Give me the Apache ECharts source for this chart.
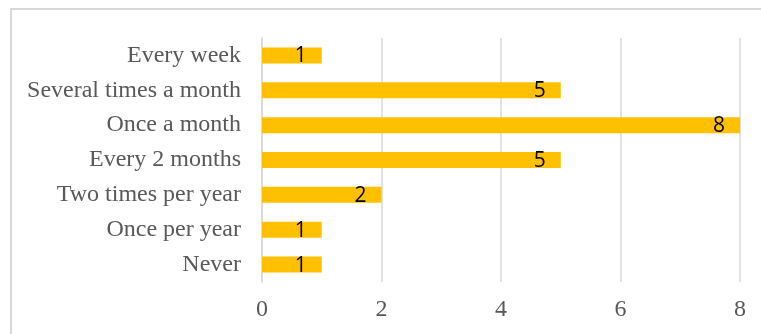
<!DOCTYPE html>
<html>
<head>
<meta charset="utf-8">
<script src="https://cdn.jsdelivr.net/npm/echarts@6/dist/echarts.min.js"></script>
<style>html,body{margin:0;padding:0;background:#fff;}#c{width:761px;height:334px;}</style>
</head>
<body>
<div id="c"></div>
<script>
var categories = ["Every week", "Several times a month", "Once a month", "Every 2 months", "Two times per year", "Once per year", "Never"];
var values = [1, 5, 8, 5, 2, 1, 1];
var xTicks = [0, 2, 4, 6, 8];

var chart = echarts.init(document.getElementById('c'), null, {renderer: 'canvas'});
chart.setOption({
  animation: false,
  backgroundColor: '#fff',
  graphic: [{
    type: 'rect', silent: true,
    shape: {x: 11, y: 9, width: 800, height: 400},
    style: {fill: 'none', stroke: '#d9d9d9', lineWidth: 2}
  }],
  grid: {left: 262, right: 21, top: 38, bottom: 52, containLabel: false},
  xAxis: {
    type: 'value', min: xTicks[0], max: xTicks[xTicks.length - 1], interval: 2,
    axisLine: {show: false}, axisTick: {show: false},
    splitLine: {show: true, lineStyle: {color: '#d9d9d9', width: 1.5}},
    axisLabel: {color: '#595959', fontFamily: 'Liberation Serif', fontSize: 24, margin: 16}
  },
  yAxis: {
    type: 'category', data: categories, inverse: true,
    axisLine: {show: true, lineStyle: {color: '#d9d9d9', width: 1.5}},
    axisTick: {show: false},
    axisLabel: {color: '#595959', fontFamily: 'Liberation Serif', fontSize: 24, margin: 21}
  },
  series: [{
    type: 'bar', data: values, barWidth: 16,
    itemStyle: {color: '#FFC000'},
    label: {show: true, position: 'insideRight', distance: 15, color: '#000', fontFamily: 'Open Sans', fontSize: 21, offset: [0, 1]}
  }]
});
</script>
</body>
</html>
